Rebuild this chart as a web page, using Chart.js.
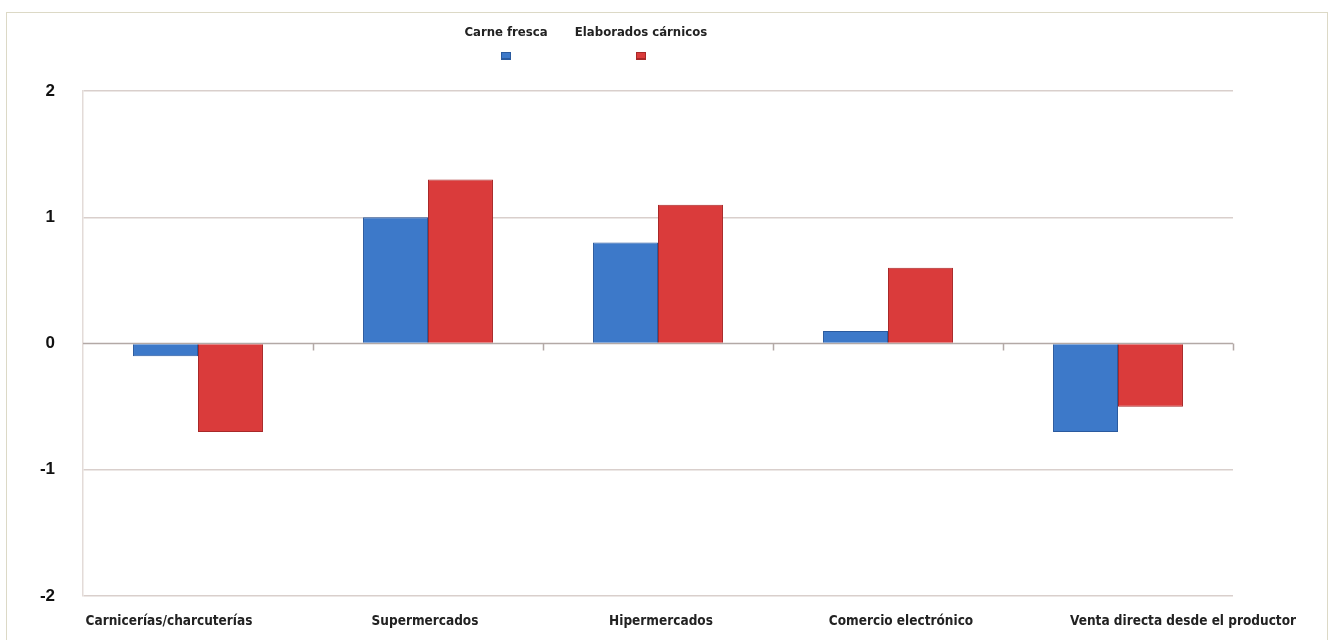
<!DOCTYPE html>
<html>
<head>
<meta charset="utf-8">
<script src="https://cdn.jsdelivr.net/npm/chart.js@4"></script>
<style>
  body { margin: 0; background: #fff; }
  #frame { position: absolute; left: 6px; top: 12px; width: 1322px; height: 640px; border: 1px solid #dcd9c6; box-sizing: border-box; }
  #wrap { position: absolute; left: 0; top: 0; width: 1334px; height: 640px; }
</style>
</head>
<body>
<div id="frame"></div>
<div id="wrap"><canvas id="myChart" width="1334" height="640"></canvas></div>
<script>
const categories = ['Carnicerías/charcuterías', 'Supermercados', 'Hipermercados', 'Comercio electrónico', 'Venta directa desde el productor']
const carneFresca = [-0.1, 1.0, 0.8, 0.1, -0.7]
const elaborados = [-0.7, 1.3, 1.1, 0.6, -0.5]
const yTicks = [-2, -1, 0, 1, 2]

const FONT = "'Liberation Sans Narrow', 'DejaVu Sans Condensed', 'Liberation Sans', sans-serif"
// label nudges relative to category centres, as laid out in the original
const labelShift = [-29, -3, 3, 13, 65]

// legend: label above a small square, like the original
const legendPlugin = {
  id: 'topLegend',
  afterDraw(chart) {
    const ctx = chart.ctx
    const spots = [506, 641]
    ctx.save()
    ctx.font = 'bold 13px ' + FONT
    ctx.textAlign = 'center'
    ctx.textBaseline = 'middle'
    chart.data.datasets.forEach((ds, i) => {
      ctx.fillStyle = '#222'
      ctx.fillText(ds.label, spots[i], 33)
      ctx.fillStyle = ds.borderColor
      ctx.fillRect(spots[i] - 5, 52, 10, 8)
      ctx.fillStyle = ds.backgroundColor
      ctx.fillRect(spots[i] - 4, 53, 8, 5)
    })
    ctx.restore()
  }
}

// zero line with small ticks between categories, plus the category labels
const zeroAxis = {
  id: 'zeroAxis',
  beforeDatasetsDraw(chart) {
    const ctx = chart.ctx
    const x = chart.scales.x
    const y0 = chart.scales.y.getPixelForValue(0)
    ctx.save()
    ctx.strokeStyle = '#b3a9a6'
    ctx.lineWidth = 1.5
    ctx.beginPath()
    ctx.moveTo(chart.chartArea.left, y0)
    ctx.lineTo(chart.chartArea.right, y0)
    for (let i = 1; i <= categories.length; i++) {
      const px = Math.round(x.getPixelForValue(i - 0.5)) + 0.5
      ctx.moveTo(px, y0)
      ctx.lineTo(px, y0 + 7)
    }
    ctx.stroke()
    ctx.font = 'bold 13.5px ' + FONT
    ctx.fillStyle = '#222'
    ctx.textAlign = 'center'
    ctx.textBaseline = 'middle'
    categories.forEach((c, i) => {
      ctx.fillText(c, x.getPixelForValue(i) + labelShift[i], chart.chartArea.bottom + 25)
    })
    ctx.restore()
  }
}

const data = {
  labels: categories,
  datasets: [{
    label: 'Carne fresca',
    data: carneFresca,
    backgroundColor: '#3d79c9',
    borderColor: '#2a5a9e',
    borderWidth: 1
  }, {
    label: 'Elaborados cárnicos',
    data: elaborados,
    backgroundColor: '#da3b3b',
    borderColor: '#a82828',
    borderWidth: 1
  }]
}

const config = {
  type: 'bar',
  data: data,
  options: {
    responsive: false,
    animation: false,
    layout: { padding: { top: 91, right: 101, left: 0, bottom: 0 } },
    plugins: { legend: { display: false }, tooltip: { enabled: false } },
    datasets: { bar: { barPercentage: 1, categoryPercentage: 0.565 } },
    scales: {
      x: {
        grid: { display: false, drawTicks: false },
        border: { display: false },
        ticks: { display: false },
        afterFit(s) { s.height = 44 }
      },
      y: {
        min: -2,
        max: 2,
        afterBuildTicks(s) { s.ticks = yTicks.map(v => ({ value: v })) },
        grid: { color: ctx => ctx.tick && ctx.tick.value === 0 ? 'rgba(0,0,0,0)' : '#d9cfcc', lineWidth: 1.5, drawTicks: false },
        border: { display: true, color: '#e3dbd8', width: 1.5 },
        ticks: { color: '#111', padding: 28, font: { family: "'Liberation Sans', Arial, sans-serif", size: 17, weight: 'bold' } },
        afterFit(s) { s.width = 83 }
      }
    }
  },
  plugins: [zeroAxis, legendPlugin]
}

const myChart = new Chart(document.getElementById('myChart'), config)
</script>
</body>
</html>
